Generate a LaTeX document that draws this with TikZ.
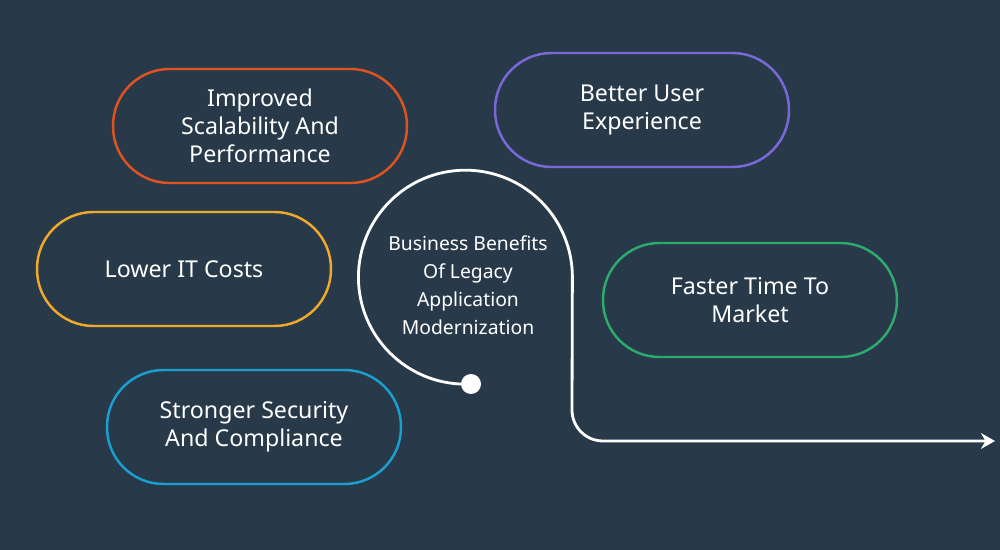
\documentclass[tikz,border=0pt]{standalone}
\usepackage{fontspec}
\setmainfont{Noto Sans}
\usetikzlibrary{arrows.meta}
\definecolor{bg}{HTML}{283A4A}
\definecolor{cOr}{HTML}{E0531F}
\definecolor{cPu}{HTML}{7B68D8}
\definecolor{cYe}{HTML}{F0A929}
\definecolor{cGr}{HTML}{2EAA6E}
\definecolor{cBl}{HTML}{1B9FD0}
\begin{document}
\begin{tikzpicture}[x=0.02cm,y=-0.02cm,
  pill/.style={draw=#1,line width=1.4pt,rounded corners=1.13cm,minimum width=5.88cm,minimum height=2.28cm,
    text=white,align=center,font=\fontsize{13.2}{16}\selectfont}]
\fill[bg] (0,0) rectangle (1000,550);
\useasboundingbox (0,0) rectangle (1000,550);
\node[pill=cOr] (a) at (260,126) {Improved\\Scalability And\\Performance};
\node[pill=cPu] (b) at (642,110) {Better User\\Experience};
\node[pill=cYe] (c) at (184,269) {Lower IT Costs};
\node[pill=cGr] (d) at (750,300) {Faster Time To\\Market};
\node[pill=cBl] (e) at (254,427) {Stronger Security\\And Compliance};
\coordinate (s) at (471,384);
\coordinate (t) at (995,441);
\draw[white,line width=1.6pt,-{Stealth[length=8pt,width=9pt]}]
  (s) arc[start angle=-87,end angle=-360,radius=2.14cm] -- (572,410)
  arc[start angle=180,end angle=270,radius=0.62cm] -- (t);
\fill[white] (s) circle (0.2cm);
\node[text=white,align=center,font=\fontsize{11}{16}\selectfont] (m) at (468,285)
  {Business Benefits\\Of Legacy\\Application\\Modernization};
\end{tikzpicture}
\end{document}
